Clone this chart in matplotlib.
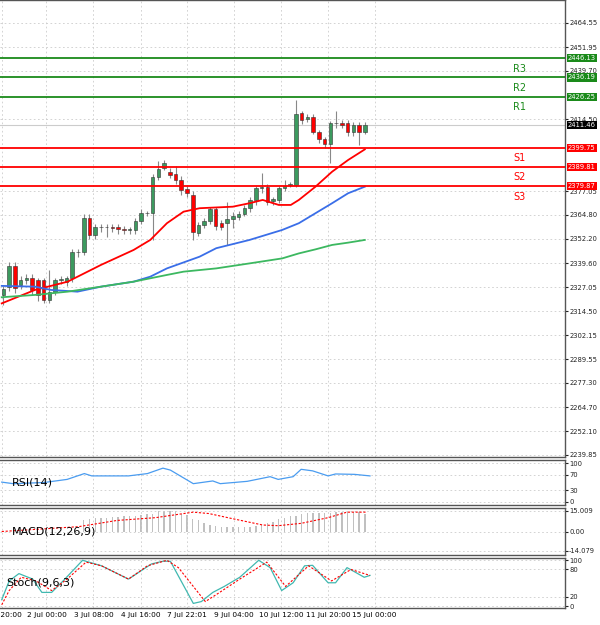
import matplotlib
matplotlib.use("Agg")
import matplotlib.pyplot as plt
import numpy as np

opens  = [2323,2327.4,2338.2,2328.3,2331,2331.7,2330.9,2330.9,2320.5,2324.8,2330.9,2330,2331.7,2345.3,2345.3,2363,2354.3,2358.3,2358.3,2358.6,2358.6,2357.2,2356.9,2356.9,2361.6,2365.6,2365.6,2384.6,2389.0,2387.2,2386.0,2382.9,2378.0,2375.1,2355.5,2359.5,2361.6,2367.6,2360.7,2360.7,2362.4,2363.5,2365.2,2368.2,2372.5,2378.9,2379.4,2372.1,2372.5,2378.6,2380.3,2380.3,2417.6,2414.4,2415.5,2408.0,2404.0,2401.6,2412.4,2412.7,2412.7,2408.0,2411.5,2408.0]
closes = [2326,2338.2,2326.5,2331,2332,2325.7,2323.1,2320.5,2324.8,2330.9,2331.2,2331.7,2345.3,2345.6,2363.3,2354.3,2358.3,2358.5,2358.4,2357.8,2357.2,2356.9,2357.0,2361.6,2365.6,2365.8,2384.6,2388.4,2391.9,2385.5,2382.9,2377.7,2376.0,2356.0,2359.5,2361.6,2367.6,2359.0,2358.6,2362.4,2364.2,2365.2,2368.2,2372.5,2378.6,2379.1,2371.6,2372.8,2378.6,2379.8,2380.5,2417.0,2414.1,2415.5,2408.0,2404.0,2401.6,2412.4,2412.6,2411.5,2408.0,2411.5,2408.0,2411.46]
highs  = [2328,2340,2340,2333,2334,2334,2332,2332,2336.1,2332,2333,2333,2347,2347,2365,2365,2360,2360,2360,2360,2360,2359,2358.5,2363,2368,2367,2386,2392.9,2393.5,2389,2390,2385,2380,2377,2361,2363,2369,2369,2362,2371.6,2366,2367,2370,2374,2380,2386.4,2381,2374,2380,2383,2382,2424.5,2419,2417,2417,2409,2405,2413.5,2419,2414,2414,2413,2413,2413]
lows   = [2318,2325,2324,2326,2329,2323,2320,2318.7,2318.7,2323,2329,2328,2330,2343,2344,2352,2352,2356,2353,2356,2355,2355,2355,2355,2360,2364,2351.7,2383,2388,2384,2381,2375,2374,2351.7,2354,2358,2360,2357,2357,2349.1,2358,2362,2364,2366,2370,2376,2370,2370,2371,2377,2379,2379,2412,2413,2407,2402,2399.4,2391.6,2410,2410,2406,2406,2401.1,2407]

ma_red_x = [-0.3,5.5,11.2,17.0,22.7,25.6,28.5,31.4,34.2,40.0,42.9,45.2,48.0,50.1,51.5,54.4,57.3,60.1,63.0]
ma_red_y = [2318.7,2325.7,2330.0,2338.7,2346.5,2351.7,2360.4,2366.4,2368.2,2369.0,2370.8,2372.5,2369.9,2369.9,2372.5,2379.4,2387.2,2393.3,2398.8]
ma_blue_x = [-0.3,5.5,8.3,12.9,17.0,22.7,25.6,28.5,34.2,37.1,42.9,48.6,51.5,54.4,57.3,60.1,63.0]
ma_blue_y = [2327.8,2327.4,2325.7,2324.8,2327.4,2330.0,2332.6,2336.9,2343.0,2347.4,2351.7,2356.9,2360.4,2365.6,2370.8,2376.0,2379.4]
ma_green_x = [-0.3,5.5,11.2,17.0,22.7,28.5,31.4,37.1,42.9,48.6,51.5,54.4,57.3,60.1,63.0]
ma_green_y = [2321.9,2323.1,2324.8,2327.4,2330.0,2333.5,2335.2,2336.9,2339.5,2342.1,2344.7,2346.8,2349.1,2350.3,2351.7]

levels_res = [("R3",2446.13),("R2",2436.19),("R1",2426.25)]
levels_sup = [("S1",2399.75),("S2",2389.81),("S3",2379.87)]
last_price = 2411.46

price_ticks = [2464.55,2451.95,2439.70,2414.50,2377.05,2364.80,2352.20,2339.60,2327.05,2314.50,2302.15,2289.55,2277.30,2264.70,2252.10,2239.85]

rsi_x = [-0.3,1.7,7.1,11.1,14.1,15.4,21.8,25.1,27.8,29.1,33.1,36.5,37.8,42.5,46.5,47.9,50.5,51.9,53.9,56.6,57.9,61.2,63.9]
rsi_y = [51,47,50,58,73,67,67,73,87,82,47,54,47,53,65,58,65,84,80,67,72,71,67]

macd_hist = [0]*14 + [8,9,9.5,10,10,10.5,10.5,11,11,11.5,12,12.5,13,14.5,15,15,14.5,13,12,9,8,6,5,4,3.5,3,3,3,3,3.5,4,4.5,6,7,9,10,11,11.5,13,13.5,13.5,13.5,13.5,13.5,14,14,14,14,14,13]
macd_sig_x = [-0.3,13.1,19.8,26.5,33.1,35.8,39.8,45.2,47.9,51.9,56.6,59.9,63.3]
macd_sig_y = [0,3.5,8,10,14,13,9.4,4.7,4.2,5.9,10,14,14]

sto_k_x = [-0.3,1.0,2.7,5.1,6.7,8.4,10.4,13.8,17.1,21.8,25.8,27.8,29.1,33.1,34.5,36.5,38.5,41.2,44.5,46.5,48.5,50.5,52.5,53.9,56.6,57.9,59.9,61.2,62.9,63.9]
sto_k_y = [14,55,71,59,30,30,55,100,88,59,92,98,98,6,10,30,43,63,100,84,34,51,88,89,51,51,84,75,63,67]
sto_d_x = [-0.3,1.0,3.1,5.7,8.4,11.1,14.4,17.1,21.8,25.1,28.5,30.5,35.2,37.2,41.2,45.9,49.2,53.2,57.2,60.6,63.9]
sto_d_y = [3,34,63,55,34,59,96,88,59,88,100,84,10,26,59,96,43,88,55,80,67]

xtick_pos = [-0.3,7.5,15.7,23.9,32.0,40.2,48.4,56.6,64.7]
xtick_lab = ["1 Jul 20:00","2 Jul 00:00","3 Jul 08:00","4 Jul 16:00","7 Jul 22:01","9 Jul 04:00","10 Jul 12:00","11 Jul 20:00","15 Jul 00:00"]

W, H = 600, 625
AXW = 565
fig = plt.figure(figsize=(6, 6.25), dpi=100)
def ax_at(top, bot):
    return fig.add_axes([0, 1 - bot / H, AXW / W, (bot - top) / H])

XL = (-0.6, 97.9)
GRN = "#1a8a1a"; RED = "#ff0000"
FS = 4.9
def style(ax):
    ax.set_xlim(*XL)
    ax.yaxis.tick_right()
    ax.tick_params(axis="y", labelsize=FS, length=2, pad=1, colors="#222")
    ax.tick_params(axis="x", length=0, labelbottom=False)
    ax.set_xticks(xtick_pos)
    ax.grid(True, ls=(0, (2, 3)), color="#cccccc", lw=0.6)
    for s in ax.spines.values():
        s.set_color("#555"); s.set_linewidth(1.0)
    ax.spines["left"].set_visible(False)

ax = ax_at(0, 457)
style(ax)
ax.set_ylim(2238.8, 2476.5)
ax.set_yticks(price_ticks)
ax.set_yticklabels([f"{v:.2f}" for v in price_ticks])
ax.axhline(last_price, color="#cccccc", lw=0.8)
for i, (o, c, h, l) in enumerate(zip(opens, closes, highs, lows)):
    col = "#3c9a5f" if c >= o else "#ff0000"
    ax.vlines(i, l, h, color="#888888", lw=0.8, zorder=2)
    b = max(abs(c - o), 0.35)
    ax.bar(i, b, bottom=min(o, c), width=0.62, color=col, edgecolor="#333333", lw=0.4, zorder=3)
ax.plot(ma_red_x, ma_red_y, color=RED, lw=1.3, zorder=4)
ax.plot(ma_blue_x, ma_blue_y, color="#3a6ee8", lw=1.3, zorder=4)
ax.plot(ma_green_x, ma_green_y, color="#3cb860", lw=1.3, zorder=4)
def box(v, fc):
    ax.text(1.005, v, f"{v:.2f}", transform=ax.get_yaxis_transform(), fontsize=FS, color="white",
            va="center", ha="left", bbox=dict(boxstyle="square,pad=0.15", fc=fc, ec="none"), zorder=10)
for lab, v in levels_res:
    ax.axhline(v, color=GRN, lw=1.3, zorder=5)
    ax.text(90, v - 3, lab, color=GRN, fontsize=7, ha="center", va="top")
    box(v, GRN)
for lab, v in levels_sup:
    ax.axhline(v, color=RED, lw=1.3, zorder=5)
    ax.text(90, v - 3, lab, color=RED, fontsize=7, ha="center", va="top")
    box(v, RED)
box(last_price, "black")

a1 = ax_at(460, 505); style(a1)
a1.set_ylim(-8, 108); a1.set_yticks([0, 30, 70, 100])
a1.plot(rsi_x, rsi_y, color="#4a9cf0", lw=0.9)
a1.text(1.5, 50, "RSI(14)", fontsize=8, va="center")

a2 = ax_at(508, 555); style(a2)
a2.set_ylim(-17, 17); a2.set_yticks([-14.079, 0, 15.009]); a2.set_yticklabels(["-14.079", "0.00", "15.009"])
a2.bar(range(len(macd_hist)), macd_hist, width=0.25, color="#c0c0c0")
a2.plot(macd_sig_x, macd_sig_y, color=RED, lw=0.8, ls=(0, (2, 1.5)))
a2.text(1.5, 0, "MACD(12,26,9)", fontsize=8, va="center")

a3 = ax_at(558, 608); style(a3)
a3.set_ylim(-4, 105); a3.set_yticks([0, 20, 80, 100])
a3.plot(sto_k_x, sto_k_y, color="#40b8b0", lw=0.9)
a3.plot(sto_d_x, sto_d_y, color=RED, lw=0.8, ls=(0, (2, 1.5)))
a3.text(0.5, 52, "Stoch(9,6,3)", fontsize=8, va="center")
a3.tick_params(axis="x", labelbottom=True, labelsize=5.3, pad=3)
a3.set_xticklabels(xtick_lab)

fig.savefig("out.png", dpi=100, facecolor="white")
